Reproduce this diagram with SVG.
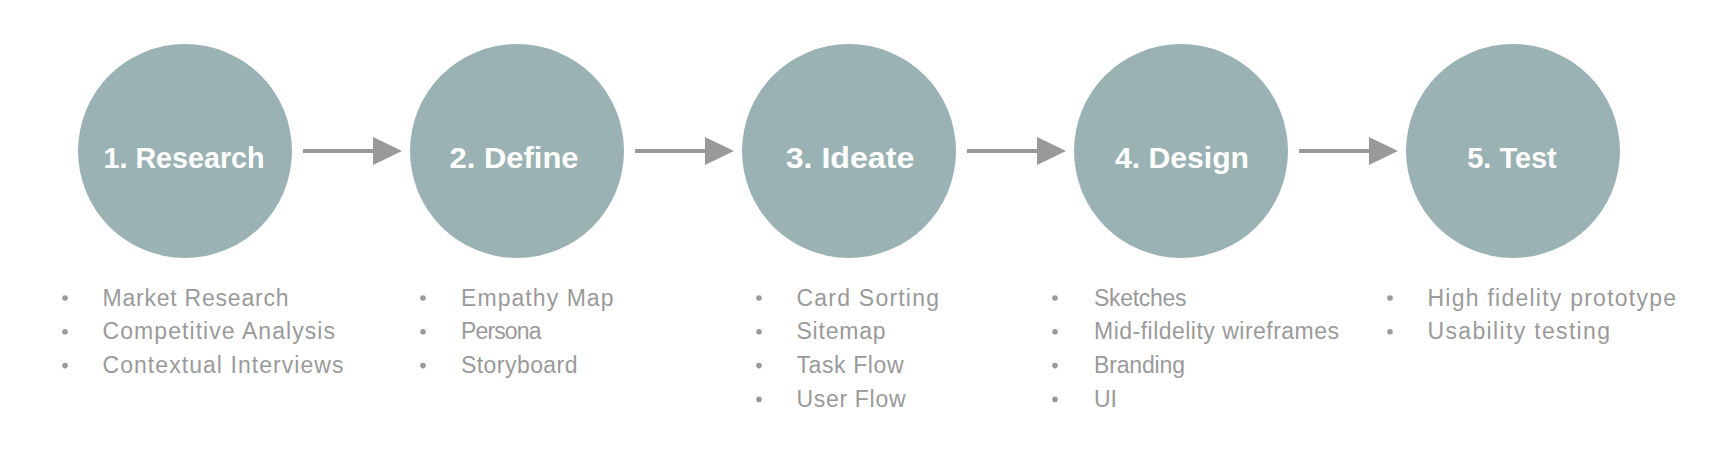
<svg xmlns="http://www.w3.org/2000/svg" width="1720" height="456" viewBox="0 0 1720 456">
<style>
.node circle.c{fill:#9bb2b4}
.title{font-family:"Liberation Sans",Arial,sans-serif;font-weight:bold;font-size:29px;fill:#ffffff;text-anchor:middle}
.item{font-family:"Liberation Sans",Arial,sans-serif;font-size:23px;fill:#9a9a9a}
.dot{fill:#9a9a9a}
.conn line{stroke:#999999;stroke-width:4}
.conn polygon{fill:#999999}
</style>
<rect width="1720" height="456" fill="#ffffff"/>
<g id="connectors" class="conn">
  <line x1="303" y1="151" x2="376" y2="151"/><polygon points="373,137 402,151 373,165"/>
  <line x1="635" y1="151" x2="708" y2="151"/><polygon points="705,137 734,151 705,165"/>
  <line x1="967" y1="151" x2="1040" y2="151"/><polygon points="1037,137 1066,151 1037,165"/>
  <line x1="1299" y1="151" x2="1372" y2="151"/><polygon points="1369,137 1398,151 1369,165"/>
</g>
<g id="node-research" class="node">
  <circle class="c" cx="185" cy="151" r="107"/>
  <text class="title" x="184" y="168" textLength="161" lengthAdjust="spacingAndGlyphs">1. Research</text>
  <circle class="dot" cx="65" cy="298" r="2.8"/>
  <circle class="dot" cx="65" cy="331.8" r="2.8"/>
  <circle class="dot" cx="65" cy="365.6" r="2.8"/>
  <text class="item" x="102.5" y="305.5" textLength="186" lengthAdjust="spacing">Market Research</text>
  <text class="item" x="102.5" y="339.3" textLength="232.5" lengthAdjust="spacing">Competitive Analysis</text>
  <text class="item" x="102.5" y="373.1" textLength="241" lengthAdjust="spacing">Contextual Interviews</text>
</g>
<g id="node-define" class="node">
  <circle class="c" cx="517" cy="151" r="107"/>
  <text class="title" x="514" y="168" textLength="129" lengthAdjust="spacingAndGlyphs">2. Define</text>
  <circle class="dot" cx="423" cy="298" r="2.8"/>
  <circle class="dot" cx="423" cy="331.8" r="2.8"/>
  <circle class="dot" cx="423" cy="365.6" r="2.8"/>
  <text class="item" x="461" y="305.5" textLength="152.5" lengthAdjust="spacing">Empathy Map</text>
  <text class="item" x="461" y="339.3" textLength="80.5" lengthAdjust="spacing">Persona</text>
  <text class="item" x="461" y="373.1" textLength="116.5" lengthAdjust="spacing">Storyboard</text>
</g>
<g id="node-ideate" class="node">
  <circle class="c" cx="849" cy="151" r="107"/>
  <text class="title" x="850" y="168" textLength="128.5" lengthAdjust="spacingAndGlyphs">3. Ideate</text>
  <circle class="dot" cx="759" cy="298" r="2.8"/>
  <circle class="dot" cx="759" cy="331.8" r="2.8"/>
  <circle class="dot" cx="759" cy="365.6" r="2.8"/>
  <circle class="dot" cx="759" cy="399.4" r="2.8"/>
  <text class="item" x="796.5" y="305.5" textLength="142.5" lengthAdjust="spacing">Card Sorting</text>
  <text class="item" x="796.5" y="339.3" textLength="89" lengthAdjust="spacing">Sitemap</text>
  <text class="item" x="796.5" y="373.1" textLength="107" lengthAdjust="spacing">Task Flow</text>
  <text class="item" x="796.5" y="406.9" textLength="109" lengthAdjust="spacing">User Flow</text>
</g>
<g id="node-design" class="node">
  <circle class="c" cx="1181" cy="151" r="107"/>
  <text class="title" x="1182" y="168" textLength="134" lengthAdjust="spacingAndGlyphs">4. Design</text>
  <circle class="dot" cx="1055" cy="298" r="2.8"/>
  <circle class="dot" cx="1055" cy="331.8" r="2.8"/>
  <circle class="dot" cx="1055" cy="365.6" r="2.8"/>
  <circle class="dot" cx="1055" cy="399.4" r="2.8"/>
  <text class="item" x="1094" y="305.5" textLength="92.5" lengthAdjust="spacing">Sketches</text>
  <text class="item" x="1094" y="339.3" textLength="245" lengthAdjust="spacing">Mid-fildelity wireframes</text>
  <text class="item" x="1094" y="373.1" textLength="91" lengthAdjust="spacing">Branding</text>
  <text class="item" x="1094" y="406.9">UI</text>
</g>
<g id="node-test" class="node">
  <circle class="c" cx="1513" cy="151" r="107"/>
  <text class="title" x="1512" y="168" textLength="89.5" lengthAdjust="spacingAndGlyphs">5. Test</text>
  <circle class="dot" cx="1390" cy="298" r="2.8"/>
  <circle class="dot" cx="1390" cy="331.8" r="2.8"/>
  <text class="item" x="1427.5" y="305.5" textLength="248.5" lengthAdjust="spacing">High fidelity prototype</text>
  <text class="item" x="1427.5" y="339.3" textLength="182.5" lengthAdjust="spacing">Usability testing</text>
</g>
</svg>
